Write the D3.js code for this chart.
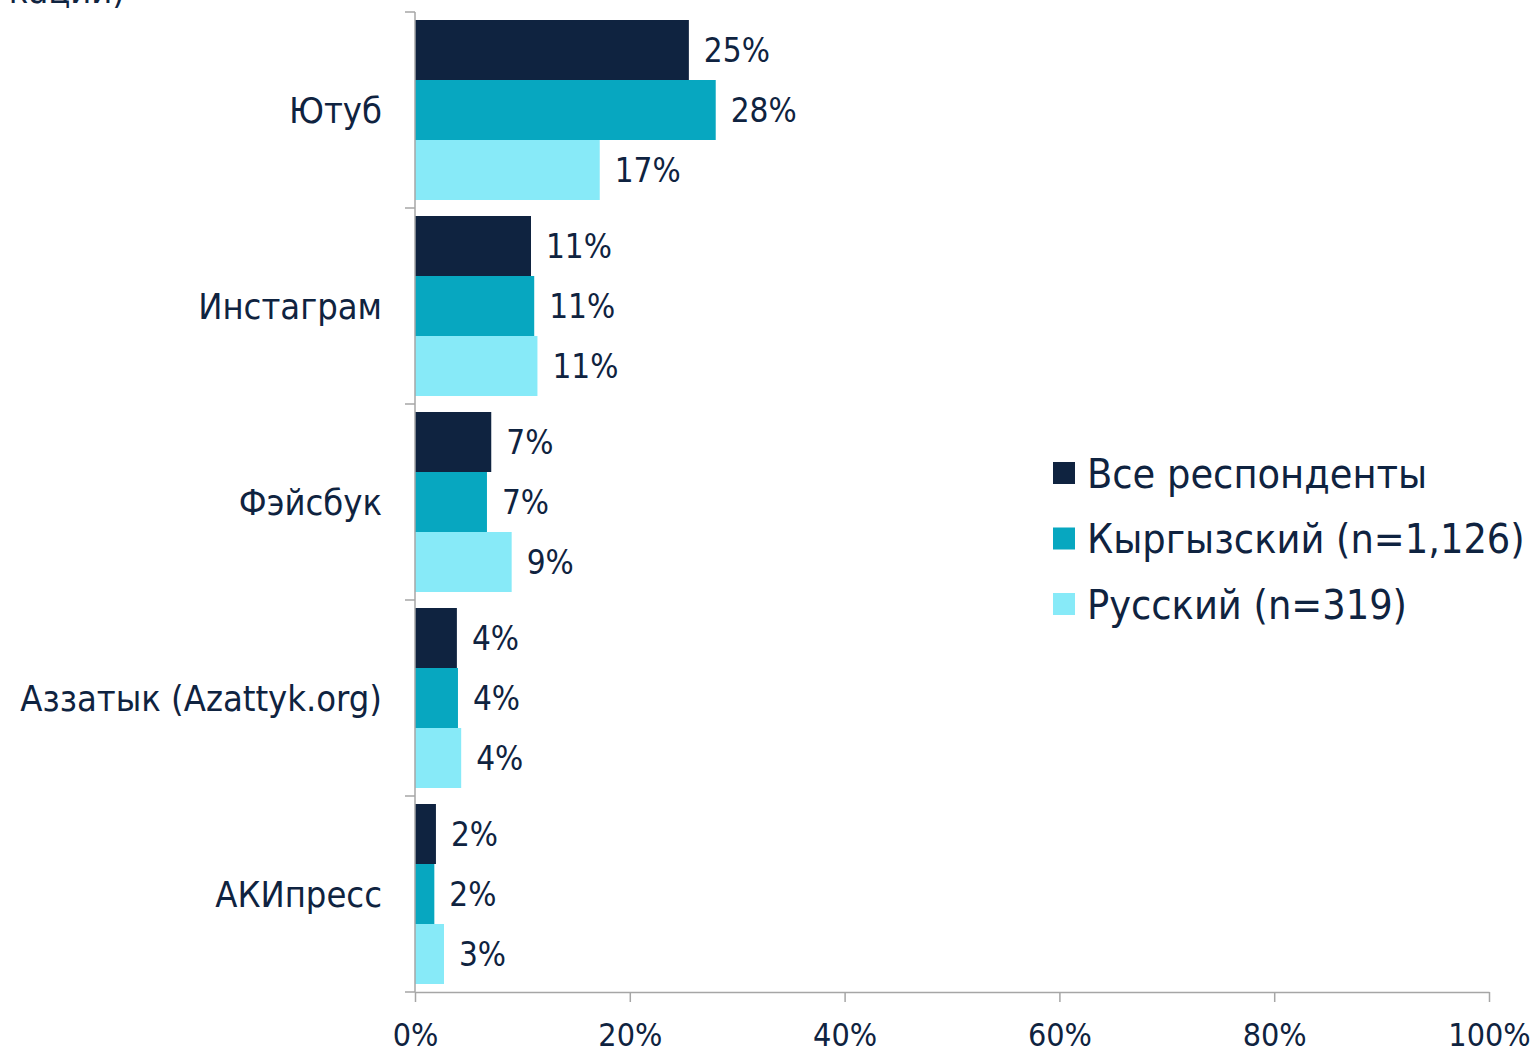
<!DOCTYPE html>
<html>
<head>
<meta charset="utf-8">
<script src="https://cdn.jsdelivr.net/npm/d3@7"></script>
<style>
  body { margin: 0; background: #fff; }
  svg text { font-family: "DejaVu Sans Condensed", "DejaVu Sans", Verdana, sans-serif; font-stretch: condensed; fill: #0f2340; }
</style>
</head>
<body>
<svg id="svg"></svg>
<script>
// data
const categories = ["Ютуб", "Инстаграм", "Фэйсбук", "Аззатык (Azattyk.org)", "АКИпресс"];
const seriesNames = ["Все респонденты", "Кыргызский (n=1,126)", "Русский (n=319)"];
const allValues = [25.5, 10.8, 7.1, 3.9, 1.95];
const kyrgyzValues = [28.0, 11.1, 6.7, 4.0, 1.8];
const russianValues = [17.2, 11.4, 9.0, 4.3, 2.7];
const labelAll = ["25%", "11%", "7%", "4%", "2%"];
const labelKyrgyz = ["28%", "11%", "7%", "4%", "2%"];
const labelRussian = ["17%", "11%", "9%", "4%", "3%"];
const xTicks = [0, 20, 40, 60, 80, 100];
const colours = ["#0f2340", "#07a7c0", "#87eaf8"];

const width = 1536;
const height = 1054;

let svg = d3.select("#svg").attr("width", width).attr("height", height);

const margin = { top: 12, left: 415, right: 47, bottom: 62 };
const chartWidth = width - margin.left - margin.right;
const chartHeight = height - margin.top - margin.bottom;

let chart = svg.append("g")
    .attr("transform", `translate(${margin.left},${margin.top})`);

let xScale = d3.scaleLinear().domain([0, 100]).range([0, chartWidth]);
let yScale = d3.scaleBand().domain(categories).range([0, chartHeight]).paddingInner(0).paddingOuter(0);
let inner = d3.scaleBand().domain([0, 1, 2]).range([8, yScale.bandwidth() - 8]);

const seriesValues = [allValues, kyrgyzValues, russianValues];
const seriesLabels = [labelAll, labelKyrgyz, labelRussian];

// bars
seriesValues.forEach((vals, s) => {
    const rows = categories.map((c, i) => ({ cat: c, value: vals[i], label: seriesLabels[s][i] }));
    const g = chart.append("g");
    g.selectAll("rect")
        .data(rows)
        .enter().append("rect")
        .attr("x", 0)
        .attr("y", d => yScale(d.cat) + inner(s))
        .attr("width", d => xScale(d.value))
        .attr("height", inner.bandwidth())
        .attr("fill", colours[s]);
    g.selectAll("text")
        .data(rows)
        .enter().append("text")
        .attr("x", d => xScale(d.value) + 15)
        .attr("y", d => yScale(d.cat) + inner(s) + inner.bandwidth() / 2)
        .attr("dy", "0.36em")
        .style("font-size", "33px")
        .text(d => d.label);
});

// x axis
let xAxis = chart.append("g")
    .attr("transform", `translate(0,${chartHeight})`)
    .call(d3.axisBottom(xScale).tickValues(xTicks).tickSize(10).tickSizeOuter(0).tickFormat(d => d + "%"));
xAxis.select(".domain").attr("stroke", "#a6a6a6").attr("stroke-width", 1.5);
xAxis.selectAll(".tick line").attr("stroke", "#a6a6a6").attr("stroke-width", 1.5);
xAxis.selectAll(".tick text")
    .attr("y", 31)
    .attr("dy", "0.71em")
    .style("font-size", "32px")
    .attr("fill", "#0f2340");

// y axis: line with ticks on category boundaries
chart.append("line")
    .attr("x1", 0).attr("x2", 0).attr("y1", 0).attr("y2", chartHeight)
    .attr("stroke", "#a6a6a6").attr("stroke-width", 1.5);
chart.selectAll(".cat-tick")
    .data(categories.concat(["end"]))
    .enter().append("line")
    .attr("x1", -10).attr("x2", 0)
    .attr("y1", (d, i) => i * yScale.step())
    .attr("y2", (d, i) => i * yScale.step())
    .attr("stroke", "#a6a6a6").attr("stroke-width", 1.5);
chart.selectAll(".cat-label")
    .data(categories)
    .enter().append("text")
    .attr("x", -33)
    .attr("y", d => yScale(d) + yScale.bandwidth() / 2)
    .attr("dy", "0.36em")
    .attr("text-anchor", "end")
    .style("font-size", "36px")
    .text(d => d);

// legend
let legend = svg.append("g").attr("transform", "translate(1053,473)");
seriesNames.forEach((name, i) => {
    const row = legend.append("g").attr("transform", `translate(0,${i * 65.5})`);
    row.append("rect").attr("x", 0).attr("y", -11).attr("width", 22).attr("height", 22).attr("fill", colours[i]);
    row.append("text").attr("x", 34).attr("y", 0).attr("dy", "0.36em").style("font-size", "41px").text(name);
});

// title fragment cut off at the top edge
svg.append("text")
    .attr("x", 125).attr("y", 3)
    .attr("text-anchor", "end")
    .style("font-size", "36px")
    .text("кации)");
</script>
</body>
</html>
